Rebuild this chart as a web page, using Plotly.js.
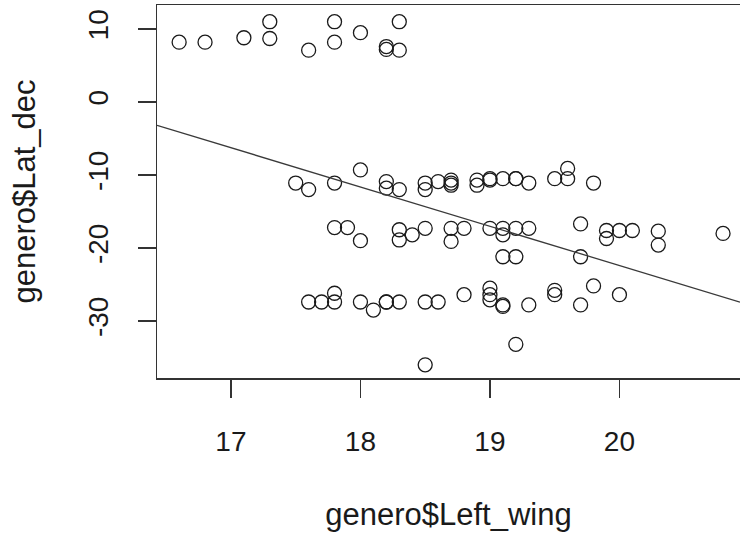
<!DOCTYPE html>
<html>
<head>
<meta charset="utf-8">
<script src="https://cdn.plot.ly/plotly-3.0.1.min.js"></script>
<style>html,body{margin:0;padding:0;background:#fff;}#chart{width:740px;height:540px;}</style>
</head>
<body>
<div id="chart"></div>
<script>
// genero$Left_wing values (x)
const leftWing = [
  16.6, 16.8, 17.1, 17.3, 17.3, 17.6, 17.8, 17.8, 18.0, 18.2, 18.2, 18.3, 18.3,
  17.5, 17.6, 17.8, 18.0, 18.2, 18.2, 18.3, 18.5, 18.5, 18.6, 18.7, 18.7, 18.7,
  18.9, 18.9, 19.0, 19.0, 19.1, 19.2, 19.2, 19.3, 19.5, 19.6, 19.6, 19.8,
  17.8, 17.9, 18.0, 18.3, 18.3, 18.4, 18.5, 18.7, 18.7, 18.8, 19.0, 19.1, 19.1,
  19.2, 19.3, 19.7, 19.9, 19.9, 20.0, 20.1, 20.3, 20.3, 20.8, 19.1, 19.2, 19.7,
  17.6, 17.7, 17.8, 17.8, 18.0, 18.1, 18.2, 18.2, 18.3, 18.5, 18.6, 18.8,
  19.0, 19.0, 19.0, 19.1, 19.1, 19.3, 19.5, 19.5, 19.7, 19.8, 20.0, 19.2, 18.5
];
// genero$Lat_dec values (y)
const latDec = [
  8.2, 8.2, 8.8, 11.0, 8.7, 7.1, 11.0, 8.2, 9.5, 7.6, 7.2, 11.0, 7.1,
  -11.1, -12.0, -11.1, -9.3, -10.9, -11.8, -12.0, -11.1, -12.0, -10.9, -10.7, -11.1, -11.4,
  -10.7, -11.4, -10.5, -10.7, -10.5, -10.5, -10.5, -11.1, -10.5, -9.1, -10.5, -11.1,
  -17.2, -17.2, -19.0, -17.5, -18.9, -18.2, -17.3, -17.3, -19.1, -17.3, -17.3, -17.3, -18.2,
  -17.3, -17.3, -16.7, -17.6, -18.7, -17.6, -17.6, -17.7, -19.6, -18.0, -21.2, -21.2, -21.2,
  -27.4, -27.4, -26.2, -27.4, -27.4, -28.5, -27.4, -27.4, -27.4, -27.4, -27.4, -26.4,
  -25.5, -26.4, -27.1, -27.8, -28.0, -27.8, -25.8, -26.4, -27.8, -25.2, -26.4, -33.2, -36.0
];
// fitted regression line (abline of lm)
const fitIntercept = 85.2;
const fitSlope = -5.38;

const xTicks = [17, 18, 19, 20];
const yTicks = [-30, -20, -10, 0, 10];
const xRange = [16.429, 20.931];
const yRange = [-37.81, 13.29];

const fitX = xRange.slice();
const fitY = fitX.map(x => fitIntercept + fitSlope * x);

const FONT = '"Liberation Sans", Arial, Helvetica, sans-serif';
const ink = '#1a1a1a';

const traces = [
  {
    x: leftWing, y: latDec, type: 'scatter', mode: 'markers',
    marker: {symbol: 'circle-open', size: 14, color: ink, line: {width: 1.3, color: ink}},
    hoverinfo: 'x+y', showlegend: false
  },
  {
    x: fitX, y: fitY, type: 'scatter', mode: 'lines',
    line: {color: '#3a3a3a', width: 1.3}, hoverinfo: 'skip', showlegend: false
  }
];

const layout = {
  width: 740, height: 540,
  margin: {l: 157, r: 0, t: 5, b: 162, pad: 0},
  paper_bgcolor: '#fff', plot_bgcolor: '#fff',
  font: {family: FONT, color: ink, size: 28},
  xaxis: {
    range: xRange, tickvals: xTicks, ticktext: xTicks.map(String),
    showgrid: false, zeroline: false,
    showline: true, mirror: true, linecolor: '#333', linewidth: 1.5,
    ticks: 'outside', ticklen: 18, tickwidth: 1.3, tickcolor: '#333',
    ticklabelstandoff: 20,
    tickfont: {family: FONT, size: 28, color: ink},
    title: {text: 'genero$Left_wing', font: {family: FONT, size: 31, color: ink}, standoff: 47},
    automargin: false
  },
  yaxis: {
    range: yRange, tickvals: yTicks, ticktext: yTicks.map(String),
    showgrid: false, zeroline: false,
    showline: true, mirror: false, linecolor: '#333', linewidth: 1.5,
    ticks: 'outside', ticklen: 18, tickwidth: 1.3, tickcolor: '#333',
    tickangle: -90, ticklabelstandoff: 18,
    tickfont: {family: FONT, size: 28, color: ink},
    title: {text: 'genero$Lat_dec', font: {family: FONT, size: 31, color: ink}, standoff: 38},
    automargin: false
  },
  showlegend: false
};

Plotly.newPlot('chart', traces, layout, {displayModeBar: false, staticPlot: true});
</script>
</body>
</html>
